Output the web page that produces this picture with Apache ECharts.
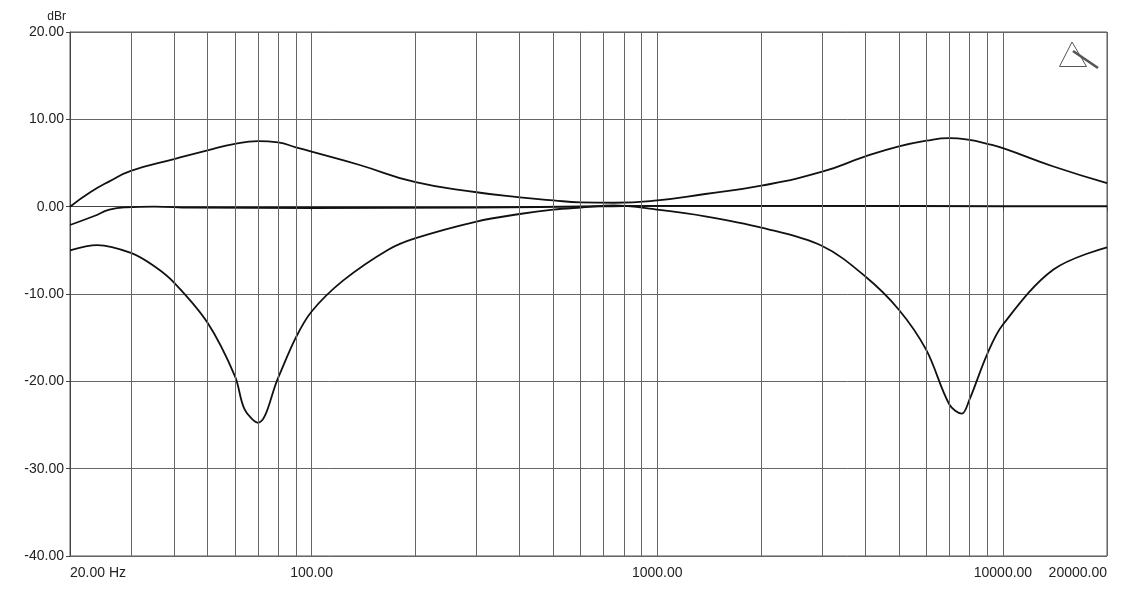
<!DOCTYPE html>
<html>
	<head>
		<meta charset="UTF-8">
		<title></title>
		<style type="text/css">
			html, body { margin: 0; padding: 0; background: #fff; }
			#main { width: 1139px; height: 614px; }
		</style>
	</head>
	<body>
		<div id="main"></div>
	</body>
	<script type="text/javascript" src="https://cdn.jsdelivr.net/npm/echarts@6/dist/echarts.min.js"></script>
	<script>
	// boost curve (upper)
	var boostFreq = [20, 23, 26, 30, 40, 50, 60, 70, 80, 90, 100, 137, 200, 300, 400, 500, 600, 750, 1000, 1376, 2000, 3000, 4000, 5000, 6000, 7000, 8000, 9000, 10000, 14000, 20000];
	var boostDb   = [0.0, 1.7, 2.9, 4.1, 5.45, 6.45, 7.2, 7.5, 7.35, 6.8, 6.3, 4.8, 2.8, 1.65, 1.07, 0.72, 0.5, 0.45, 0.72, 1.45, 2.4, 4.0, 5.75, 6.9, 7.55, 7.85, 7.65, 7.2, 6.7, 4.6, 2.7];
	// near flat curve
	var flatFreq = [20, 23.4, 26, 29, 35, 45, 100, 300, 700, 1000, 3000, 10000, 20000];
	var flatDb   = [-2.1, -1.1, -0.35, -0.07, 0.0, -0.12, -0.15, -0.1, 0.05, 0.1, 0.1, 0.05, 0.05];
	// notch curve (lower)
	var cutFreq = [20, 24, 30, 35, 40, 50, 60, 64, 70, 80, 90, 100, 123, 167, 200, 300, 400, 500, 600, 750, 1000, 1376, 2000, 3000, 4000, 5000, 6000, 7000, 7600, 8000, 9000, 10000, 14000, 20000];
	var cutDb   = [-5.0, -4.4, -5.3, -6.8, -8.7, -13.3, -19.4, -23.2, -24.75, -19.6, -15.0, -12.0, -8.5, -4.9, -3.6, -1.7, -0.84, -0.34, -0.1, 0.15, -0.34, -1.1, -2.4, -4.5, -8.0, -11.8, -16.4, -22.65, -23.7, -22.1, -16.9, -13.5, -7.2, -4.65];
	// vertical grid between decades
	var minorFreqs = [30, 40, 50, 60, 70, 80, 90, 200, 300, 400, 500, 600, 700, 800, 900, 2000, 3000, 4000, 5000, 6000, 7000, 8000, 9000];

	function pairs(fs, vs){
		var out = [];
		for (var i = 0; i < fs.length; i++) out.push([fs[i], vs[i]]);
		return out;
	}

	var gridColor = '#666';
	var lineStyle = { color: '#111', width: 1.8 };
	var font = 'Liberation Sans';

	var myChart = echarts.init(document.getElementById('main'));
	var option = {
		animation: false,
		backgroundColor: '#fff',
		grid: {
			left: 70, top: 32, width: 1037, height: 524,
			show: true, borderColor: '#555', borderWidth: 1
		},
		xAxis: {
			type: 'log',
			logBase: 10,
			min: 20,
			max: 20000,
			axisLine: { lineStyle: { color: '#444' } },
			axisTick: { show: true, length: 4, lineStyle: { color: '#444' } },
			splitLine: { show: true, lineStyle: { color: gridColor, width: 1 } },
			axisLabel: {
				color: '#222', fontFamily: font, fontSize: 14, margin: 10,
				alignMinLabel: 'left', alignMaxLabel: 'right',
				formatter: function(v){
					var n = Math.round(v);
					return n === 20 ? '20.00 Hz' : n.toFixed(2);
				}
			}
		},
		yAxis: {
			type: 'value',
			min: -40,
			max: 20,
			interval: 10,
			name: 'dBr',
			nameLocation: 'end',
			nameGap: 9,
			nameTextStyle: { color: '#222', fontFamily: font, fontSize: 12, align: 'right', padding: [0, 4, 0, 0] },
			axisLine: { show: true, lineStyle: { color: '#444' } },
			axisTick: { show: true, length: 4, lineStyle: { color: '#444' } },
			splitLine: { show: true, lineStyle: { color: gridColor, width: 1 } },
			axisLabel: {
				color: '#222', fontFamily: font, fontSize: 14, margin: 6,
				formatter: function(v){ return v.toFixed(2); }
			}
		},
		graphic: [
			{
				type: 'polygon', silent: true,
				shape: { points: [[1072, 42], [1086.5, 66.5], [1059.5, 66.5]] },
				style: { fill: 'none', stroke: '#555', lineWidth: 1 }
			},
			{
				type: 'line', silent: true,
				shape: { x1: 1073, y1: 51, x2: 1098, y2: 68 },
				style: { stroke: '#555', lineWidth: 2.6 }
			}
		],
		series: [
			{
				name: 'grid',
				type: 'line',
				data: [],
				markLine: {
					silent: true,
					symbol: 'none',
					label: { show: false },
					lineStyle: { color: gridColor, width: 1, type: 'solid' },
					data: minorFreqs.map(function(f){ return { xAxis: f }; })
				}
			},
			{ type: 'line', data: pairs(flatFreq, flatDb), showSymbol: false, smooth: 0.5, lineStyle: lineStyle, z: 3 },
			{ type: 'line', data: pairs(boostFreq, boostDb), showSymbol: false, smooth: 0.5, lineStyle: lineStyle, z: 3 },
			{ type: 'line', data: pairs(cutFreq, cutDb), showSymbol: false, smooth: 0.35, lineStyle: lineStyle, z: 3 }
		]
	};
	myChart.setOption(option);
	</script>
</html>
